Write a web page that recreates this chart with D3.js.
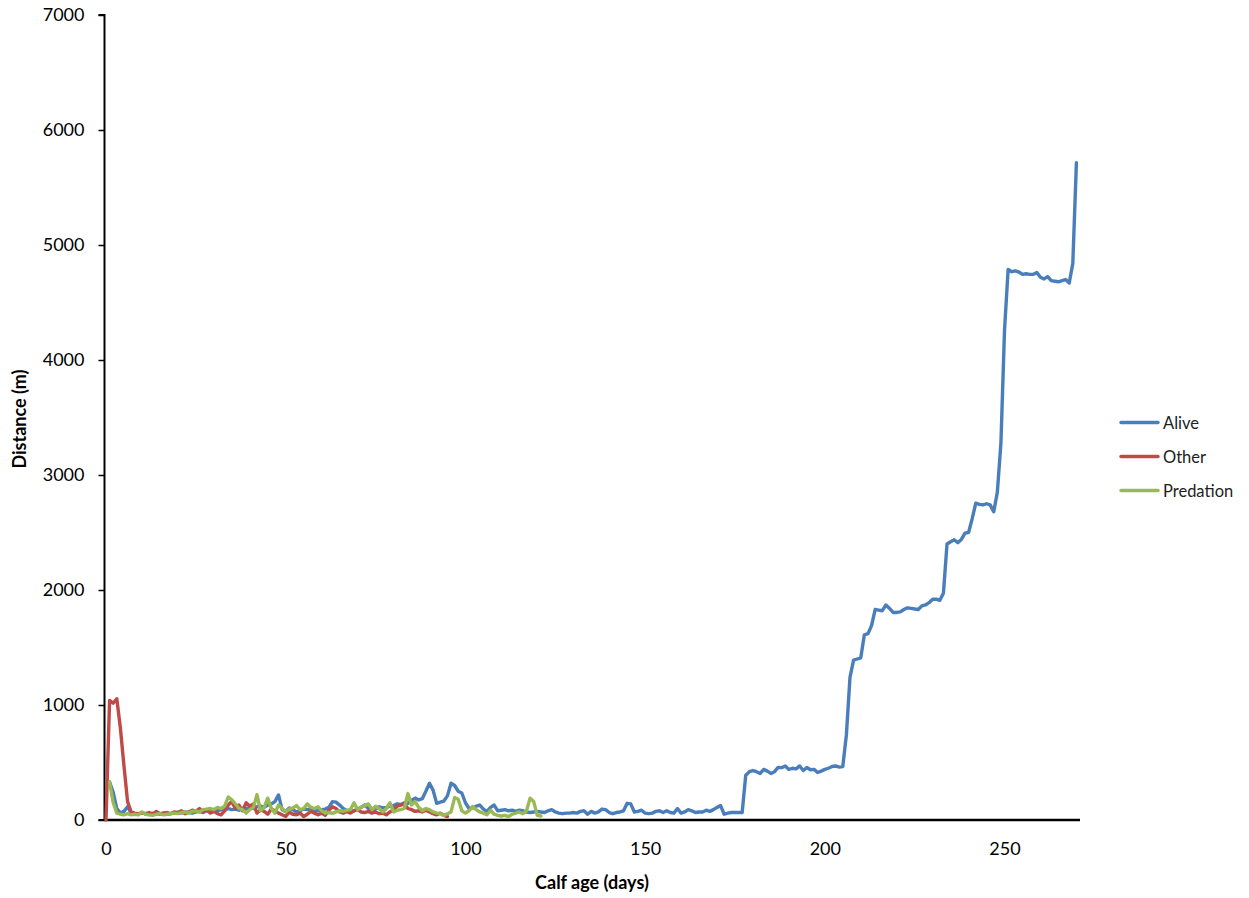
<!DOCTYPE html>
<html>
<head>
<meta charset="utf-8">
<script src="https://cdn.jsdelivr.net/npm/d3@7"></script>
<style>
  html, body { margin: 0; padding: 0; background: #fff; }
  svg { display: block; font-family: Lato, "Liberation Sans", sans-serif; }
</style>
</head>
<body>
<svg id="chart" width="1249" height="898"></svg>
<script>
// Day index = position in array (calf age in days). null = no value.
const alive = [
  null,330,240,100,60,75,115,60,50,55,
  60,55,50,60,55,50,60,65,55,60,
  65,60,70,65,60,70,75,65,80,75,
  85,80,90,85,100,90,95,85,100,95,
  110,100,115,120,110,130,140,160,218,90,
  75,105,90,70,80,95,90,100,85,80,
  90,95,110,160,155,130,100,80,75,80,
  95,110,130,100,85,95,115,105,110,120,
  125,140,135,150,145,170,190,175,185,250,
  320,260,145,155,165,210,320,300,250,235,
  150,100,105,120,130,95,75,110,130,80,
  85,90,80,85,75,85,80,70,65,70,
  75,70,65,80,90,70,60,55,60,60,
  65,60,75,80,50,75,60,70,95,90,
  65,55,65,70,80,145,140,70,75,85,
  60,55,60,75,80,65,80,65,60,100,
  60,70,90,80,65,70,70,85,75,90,
  110,125,50,60,65,65,65,65,390,420,
  430,420,405,440,425,405,420,457,455,470,
  440,450,445,470,430,457,437,440,413,425,
  440,450,465,470,460,465,740,1240,1390,1400,
  1410,1610,1620,1690,1830,1825,1820,1870,1840,1805,
  1805,1810,1830,1845,1840,1835,1830,1862,1870,1890,
  1920,1920,1910,1972,2400,2420,2437,2412,2440,2495,
  2500,2620,2755,2745,2740,2750,2740,2680,2850,3280,
  4260,4787,4768,4775,4765,4745,4750,4745,4745,4760,
  4720,4705,4725,4690,4685,4680,4690,4700,4670,4840,
  5715
];
const other = [
  0,1040,1015,1055,800,470,160,70,60,55,
  60,55,65,50,75,55,60,50,55,70,
  65,80,55,70,85,75,100,70,90,60,
  75,55,45,80,130,160,100,130,80,150,
  120,140,60,90,75,50,95,80,60,45,
  30,70,50,45,60,30,50,75,60,45,
  60,40,85,115,100,70,60,75,60,80,
  90,70,65,75,60,70,55,60,45,70,
  90,120,130,140,100,90,75,80,70,85,
  70,55,45,60,40,30
];
const predation = [
  null,330,150,60,50,45,55,45,50,45,
  70,50,45,40,50,55,45,50,55,60,
  55,65,70,60,75,80,70,90,95,100,
  90,110,100,120,200,175,140,100,90,60,
  90,110,220,80,110,190,100,60,130,100,
  70,95,105,125,90,100,140,110,100,115,
  80,60,65,58,70,80,75,85,90,150,
  90,110,125,140,90,120,100,70,100,150,
  70,85,90,100,230,130,160,110,80,100,
  90,70,60,55,40,55,70,195,180,80,
  60,80,116,90,70,60,45,85,50,40,
  35,40,30,50,60,70,55,80,190,160,
  40,35
];
const seriesNames = ["Alive", "Other", "Predation"];
const seriesColors = ["#4a7ebb", "#be4b48", "#98b954"];
const xTicks = [0, 50, 100, 150, 200, 250];
const yTicks = [0, 1000, 2000, 3000, 4000, 5000, 6000, 7000];

const svg = d3.select("#chart");
const x = d3.scaleLinear().domain([0, 271]).range([106, 1080]);
const y = d3.scaleLinear().domain([0, 7000]).range([820, 15]);

// Y axis
const yAxis = d3.axisLeft(y).tickValues(yTicks).tickSize(6).tickPadding(14).tickFormat(d3.format("d"));
const gy = svg.append("g").attr("transform", "translate(104.5,0)").call(yAxis);
gy.select(".domain").attr("stroke", "#000").attr("stroke-width", 2).attr("d", "M-6,15H0V820H-6");
gy.selectAll(".tick line").attr("stroke", "#000").attr("stroke-width", 1.5);
gy.selectAll(".tick text").attr("font-size", 18).attr("fill", "#000")
  .attr("font-family", "Lato, 'Liberation Sans', sans-serif");

// X axis (no tick marks)
const xAxis = d3.axisBottom(x).tickValues(xTicks).tickSize(0).tickPadding(22).tickFormat(d3.format("d"));
const gx = svg.append("g").attr("transform", "translate(0,820)").call(xAxis);
gx.select(".domain").attr("stroke", "#000").attr("stroke-width", 2.5).attr("d", "M104,0H1080");
gx.selectAll(".tick text").attr("font-size", 18).attr("fill", "#000")
  .attr("font-family", "Lato, 'Liberation Sans', sans-serif");

// Lines
const data = [alive, other, predation];
const line = d3.line()
  .defined(d => d.v != null)
  .x(d => x(d.day))
  .y(d => y(d.v));
data.forEach((arr, i) => {
  const pts = arr.map((v, day) => ({ day, v }));
  svg.append("path")
    .datum(pts)
    .attr("fill", "none")
    .attr("stroke", seriesColors[i])
    .attr("stroke-width", 3.4)
    .attr("stroke-linejoin", "round")
    .attr("stroke-linecap", "round")
    .attr("d", line);
});

// Axis titles
svg.append("text")
  .attr("x", 592).attr("y", 889)
  .attr("text-anchor", "middle")
  .attr("font-size", 18).attr("font-weight", "bold").attr("fill", "#000")
  .text("Calf age (days)");
svg.append("text")
  .attr("transform", "translate(26,419) rotate(-90)")
  .attr("text-anchor", "middle")
  .attr("font-size", 18).attr("font-weight", "bold").attr("fill", "#000")
  .text("Distance (m)");

// Legend
const legendY = [422.5, 456.5, 490.5];
seriesNames.forEach((name, i) => {
  svg.append("line")
    .attr("x1", 1121).attr("x2", 1158)
    .attr("y1", legendY[i]).attr("y2", legendY[i])
    .attr("stroke", seriesColors[i]).attr("stroke-width", 3.4)
    .attr("stroke-linecap", "round");
  svg.append("text")
    .attr("x", 1163).attr("y", legendY[i] + 6)
    .attr("font-size", 16.5).attr("fill", "#222")
    .text(name);
});
</script>
</body>
</html>
